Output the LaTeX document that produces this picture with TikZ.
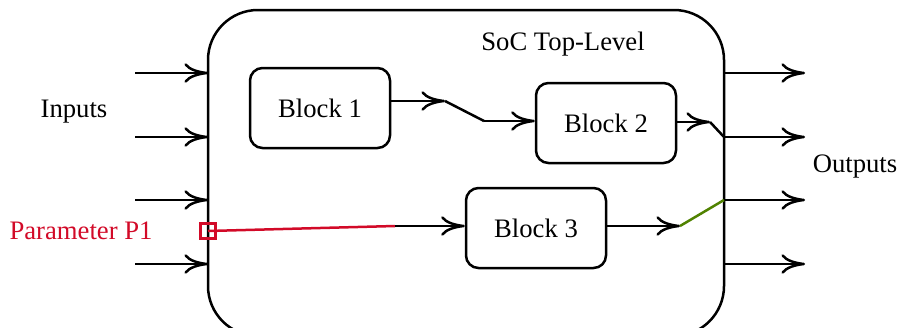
\documentclass[tikz,border=0pt]{standalone}
\usepackage{fontspec}
\setmainfont{Liberation Serif}[Scale=0.96]
\usetikzlibrary{arrows.meta}
\definecolor{paramred}{RGB}{210,10,40}
\definecolor{wiregreen}{RGB}{80,130,0}
\begin{document}
\begin{tikzpicture}[x=0.36pt,y=-0.36pt,line width=0.9pt,>={To[length=8.5pt,width=7pt]},
    block/.style={draw,rounded corners=4.5pt,minimum width=50.4pt,minimum height=28.8pt}]
    \useasboundingbox (0,0) rectangle (898,327);
    % top-level frame
    \draw [rounded corners=18pt] (208,10) rectangle (724,336);
    \node (top) at (563,44) {SoC Top-Level};
    % blocks
    \node [block] (b1) at (320,108) {Block 1};
    \node [block] (b2) at (606,123) {Block 2};
    \node [block] (b3) at (536,228) {Block 3};
    % ports
    \foreach \y [count=\i] in {73,137,200,264} {
        \coordinate (inA\i) at (135,\y);
        \coordinate (inB\i) at (208,\y);
        \coordinate (outA\i) at (724,\y);
        \coordinate (outB\i) at (805,\y);
        \draw [->] (inA\i) -- (inB\i);
        \draw [->] (outA\i) -- (outB\i);
    }
    \node (inputs) at (74,112) {Inputs};
    \node (outputs) at (855,167) {Outputs};
    \node [text=paramred] (ptext) at (81,231) {Parameter P1};
    \node [draw=paramred,minimum size=5.5pt,inner sep=0pt] (p1) at (208,231) {};
    % wires
    \coordinate (sw1a) at (445,101);
    \coordinate (sw1b) at (484,121);
    \coordinate (sw2) at (710,122);
    \coordinate (sw3) at (680,226);
    \coordinate (pend) at (395,226);
    \draw [->] (b1.east |- sw1a) -- (sw1a);
    \draw (sw1a) -- (sw1b);
    \draw [->] (sw1b) -- (sw1b -| b2.west);
    \draw [->] (b2.east |- sw2) -- (sw2);
    \draw (sw2) -- (outA2);
    \draw [->] (b3.east |- sw3) -- (sw3);
    \draw [wiregreen] (sw3) -- (outA3);
    \draw [paramred] (p1.center) -- (pend);
    \draw [->] (pend) -- (pend -| b3.west);
\end{tikzpicture}
\end{document}
